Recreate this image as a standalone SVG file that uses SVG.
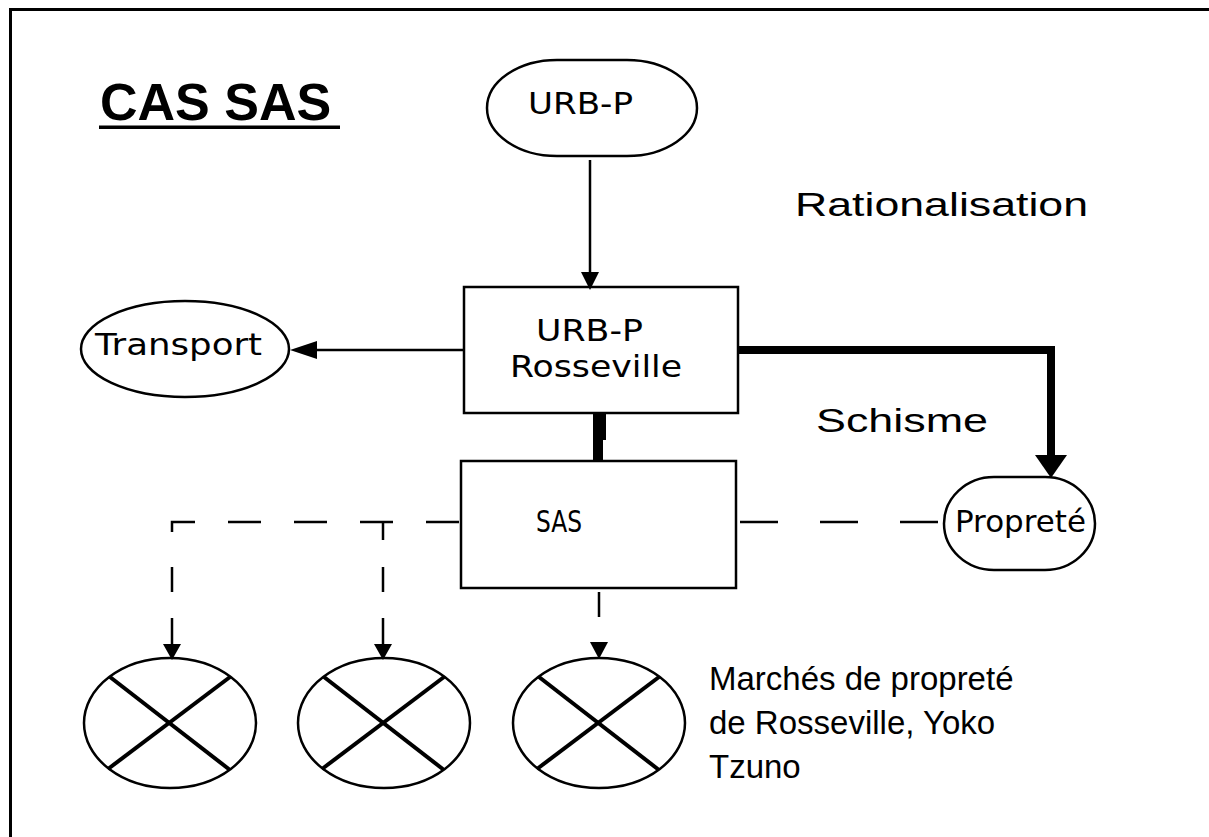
<svg xmlns="http://www.w3.org/2000/svg" width="1209" height="837" viewBox="0 0 1209 837">
<style>
.node{fill:#fff;stroke:#000;stroke-width:2.5}
.nt{font-family:"DejaVu Sans",sans-serif;font-size:30px;fill:#000}
.lbl{font-family:"Liberation Sans",Arial,sans-serif;font-size:33px;fill:#000}
.ln{fill:none;stroke:#000;stroke-width:2.5}
.dash{fill:none;stroke:#000;stroke-width:2.5;stroke-dasharray:33 33}
.x{stroke:#000;stroke-width:4}
.ah{fill:#000}
</style>
<rect x="0" y="0" width="1209" height="837" fill="#fff"/>
<path d="M10.5,837 V9.5 H1209" fill="none" stroke="#000" stroke-width="3"/>
<g id="title">
<text x="100" y="120" font-family="Liberation Sans,Arial,sans-serif" font-size="52" font-weight="bold">CAS SAS</text>
<rect x="99" y="125.5" width="241" height="3.5" fill="#000"/>
</g>
<g id="urbp">
<rect class="node" x="487" y="60" width="210" height="96" rx="70" ry="48"/>
<text class="nt" x="528" y="114" textLength="105" lengthAdjust="spacingAndGlyphs">URB-P</text>
</g>
<g id="urbp-rosseville">
<rect class="node" x="464" y="287" width="274" height="126"/>
<text class="nt" x="536" y="341" textLength="107" lengthAdjust="spacingAndGlyphs">URB-P</text>
<text class="nt" x="510" y="377" textLength="172" lengthAdjust="spacingAndGlyphs">Rosseville</text>
</g>
<g id="transport">
<ellipse class="node" cx="185" cy="349" rx="104" ry="48"/>
<text class="nt" x="95" y="355" textLength="167" lengthAdjust="spacingAndGlyphs">Transport</text>
</g>
<g id="sas">
<rect class="node" x="461" y="461" width="275" height="127"/>
<text class="nt" x="536" y="532" textLength="46" lengthAdjust="spacingAndGlyphs">SAS</text>
</g>
<g id="proprete">
<rect class="node" x="944" y="477" width="151" height="93" rx="50" ry="46.5"/>
<text class="nt" x="955" y="532" textLength="131" lengthAdjust="spacingAndGlyphs">Propreté</text>
</g>
<g id="marche1">
<ellipse class="node" cx="170" cy="723" rx="86" ry="65"/>
<line class="x" x1="110" y1="677" x2="230" y2="770"/>
<line class="x" x1="230" y1="677" x2="108" y2="769"/>
</g>
<g id="marche2">
<ellipse class="node" cx="384" cy="723" rx="86" ry="65"/>
<line class="x" x1="324" y1="677" x2="444" y2="770"/>
<line class="x" x1="444" y1="677" x2="322" y2="769"/>
</g>
<g id="marche3">
<ellipse class="node" cx="599" cy="723" rx="86" ry="65"/>
<line class="x" x1="539" y1="677" x2="659" y2="770"/>
<line class="x" x1="659" y1="677" x2="537" y2="769"/>
</g>
<g id="labels">
<text class="lbl" x="795" y="216" textLength="293" lengthAdjust="spacingAndGlyphs">Rationalisation</text>
<text class="lbl" x="816" y="432" textLength="172" lengthAdjust="spacingAndGlyphs">Schisme</text>
<text class="lbl" x="709" y="690">Marchés de propreté</text>
<text class="lbl" x="709" y="734">de Rosseville, Yoko</text>
<text class="lbl" x="709" y="778">Tzuno</text>
</g>
<g id="connectors">
<line class="ln" x1="590" y1="160" x2="590" y2="274" stroke-width="3"/>
<polygon class="ah" points="581,272 599,272 590,290"/>
<line class="ln" x1="464" y1="350" x2="315" y2="350"/>
<polygon class="ah" points="317,341 317,359 290,350"/>
<path class="ah" d="M593,413 H606 V440 H603 V461 H593 Z"/>
<path d="M738,350 H1051 V457" fill="none" stroke="#000" stroke-width="8"/>
<polygon class="ah" points="1035,455 1067,455 1051,478"/>
<line class="ln" x1="740" y1="522" x2="944" y2="522" stroke-dasharray="38 42"/>
<path class="dash" d="M459,522 H172 V540"/>
<line class="ln" x1="383" y1="522" x2="383" y2="540"/>
<line class="ln" x1="172" y1="567" x2="172" y2="592"/>
<line class="ln" x1="383" y1="567" x2="383" y2="592"/>
<line class="ln" x1="172" y1="618" x2="172" y2="646"/>
<line class="ln" x1="383" y1="618" x2="383" y2="646"/>
<polygon class="ah" points="163,644 181,644 172,660"/>
<polygon class="ah" points="374,644 392,644 383,660"/>
<line class="ln" x1="599" y1="592" x2="599" y2="617"/>
<polygon class="ah" points="590,642 608,642 599,659"/>
</g>
</svg>
